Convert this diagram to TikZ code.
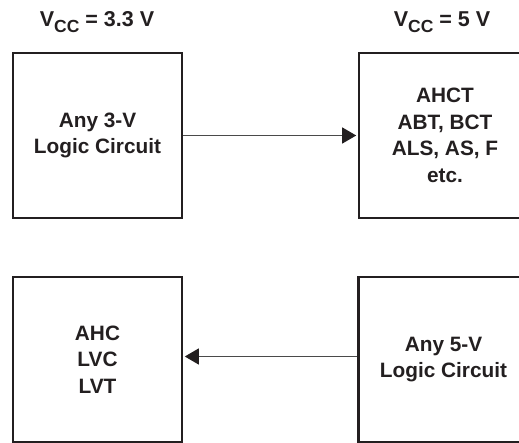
\documentclass[tikz,border=0pt]{standalone}
\usepackage{fontspec}
\setmainfont{Liberation Sans}
\usetikzlibrary{arrows.meta}
\definecolor{ink}{HTML}{231F20}
\definecolor{wire}{HTML}{4A4A4A}
\tikzset{
  blk/.style={draw=ink, line width=2.8pt, rectangle, minimum width=#1, minimum height=165pt,
    inner sep=0pt, align=center, text=ink,
    font=\fontsize{20.8}{26.5}\selectfont\bfseries},
  blk/.default=169pt,
  wirearrow/.style={draw=wire, line width=1.3pt, -{Triangle[length=14pt,width=16pt,color=ink]}, shorten >=1.4pt},
  vlabel/.style={anchor=base, inner sep=0pt, text=ink, font=\fontsize{21.5}{24}\selectfont\bfseries}
}
\newcommand{\subcc}{\raisebox{-5.5pt}{\fontsize{17.5}{18}\selectfont CC}}
\begin{document}
\begin{tikzpicture}[x=1pt,y=-1pt]
\useasboundingbox (0,0) rectangle (519,443);
\clip (0,0) rectangle (519,443);
\node[vlabel] (vl) at (97,27) {V\subcc\ = 3.3 V};
\node[vlabel] (vr) at (442,27) {V\subcc\ = 5 V};
\node[blk] (tl) at (97.5,135.5) {Any 3-V\\Logic Circuit};
\node[blk=172pt] (tr) at (445,135.5) {AHCT\\ABT, BCT\\ALS, AS, F\\etc.};
\node[blk] (bl) at (97.5,359.5) {AHC\\LVC\\LVT};
\node[blk=170pt] (br) at (443.5,359.5) {Any 5-V\\Logic Circuit};
\draw[wirearrow] (tl.east) -- (tr.west);
\draw[wirearrow] ([yshift=3pt]br.west) -- ([yshift=3pt]bl.east);
\end{tikzpicture}
\end{document}
